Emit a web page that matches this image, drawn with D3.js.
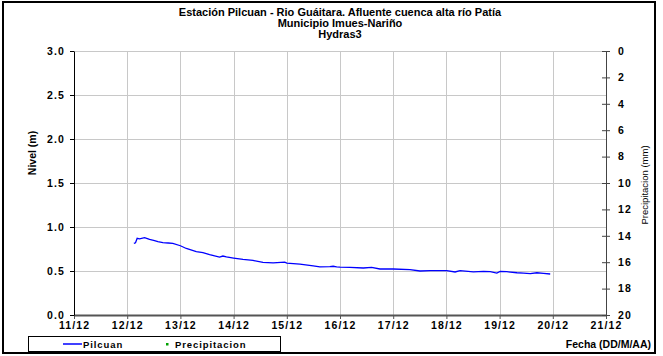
<!DOCTYPE html>
<html>
<head>
<meta charset="utf-8">
<script src="https://cdn.jsdelivr.net/npm/d3@7"></script>
<style>
  html, body { margin: 0; padding: 0; background: #fff; }
  svg { display: block; font-family: "Liberation Sans", Arial, sans-serif; }
</style>
</head>
<body>
<svg id="chart" width="663" height="356"></svg>
<script>
// Title lines
const titleLines = [
  "Estación Pilcuan - Rio Guáitara. Afluente cuenca alta río Patía",
  "Municipio Imues-Nariño",
  "Hydras3"
];

// Water level record (Pilcuan), timestamps as "dd/mm HH:MM"
const levelTimes = [
  "12/12 03:00", "12/12 03:45", "12/12 04:30", "12/12 05:35", "12/12 07:50",
  "12/12 10:05", "12/12 12:20", "12/12 13:50", "12/12 16:05", "12/12 18:30",
  "12/12 20:35", "13/12 00:00", "13/12 02:40", "13/12 07:10", "13/12 10:10",
  "13/12 13:10", "13/12 17:40", "13/12 19:10", "13/12 20:45", "14/12 00:00",
  "14/12 04:15", "14/12 08:45", "14/12 13:15", "14/12 17:50", "14/12 23:05",
  "15/12 00:00", "15/12 05:55", "15/12 11:55", "15/12 14:55", "15/12 19:25",
  "15/12 20:55", "15/12 22:30", "16/12 00:00", "16/12 04:30", "16/12 10:30",
  "16/12 14:15", "16/12 18:00", "17/12 00:00", "17/12 07:35", "17/12 12:05",
  "17/12 16:40", "18/12 00:10", "18/12 03:55", "18/12 06:10", "18/12 12:10",
  "18/12 16:45", "18/12 19:45", "18/12 22:45", "19/12 00:15", "19/12 03:15",
  "19/12 07:50", "19/12 10:50", "19/12 13:50", "19/12 16:50", "19/12 19:50",
  "19/12 22:50"
];
const levelValues = [
  0.814, 0.820, 0.872, 0.865, 0.880,
  0.860, 0.845, 0.833, 0.822, 0.818,
  0.814, 0.787, 0.756, 0.720, 0.710,
  0.686, 0.659, 0.670, 0.660, 0.647,
  0.632, 0.620, 0.597, 0.593, 0.600,
  0.589, 0.578, 0.558, 0.547, 0.550,
  0.554, 0.547, 0.545, 0.542, 0.534,
  0.542, 0.523, 0.523, 0.515, 0.500,
  0.504, 0.504, 0.489, 0.504, 0.489,
  0.496, 0.492, 0.477, 0.496, 0.492,
  0.480, 0.477, 0.470, 0.480, 0.473,
  0.466
];

// Precipitation record (no readings in this period)
const precipTimes = [];
const precipValues = [];

// Axis ticks
const dateTicks = ["11/12", "12/12", "13/12", "14/12", "15/12", "16/12",
                   "17/12", "18/12", "19/12", "20/12", "21/12"];
const levelTicks = [0.0, 0.5, 1.0, 1.5, 2.0, 2.5, 3.0];
const precipTicks = [0, 2, 4, 6, 8, 10, 12, 14, 16, 18, 20];

const parseTime = d3.timeParse("%d/%m %H:%M");
const parseDay = d3.timeParse("%d/%m");

const svg = d3.select("#chart");
const plot = { left: 74, right: 606, top: 51, bottom: 315 };

const x = d3.scaleTime()
  .domain([parseDay(dateTicks[0]), parseDay(dateTicks[dateTicks.length - 1])])
  .range([plot.left, plot.right]);
const y = d3.scaleLinear().domain([0, 3]).range([plot.bottom, plot.top]);
const yR = d3.scaleLinear().domain([0, 20]).range([plot.top, plot.bottom]);

// Outer frame
svg.append("rect")
  .attr("x", 3).attr("y", 2).attr("width", 652).attr("height", 351)
  .attr("fill", "#fff").attr("stroke", "#000").attr("stroke-width", 2);

// Title
svg.append("g").selectAll("text").data(titleLines).join("text")
  .attr("x", (plot.left + plot.right) / 2)
  .attr("y", (d, i) => 16 + i * 11)
  .attr("text-anchor", "middle")
  .attr("font-size", 11).attr("font-weight", "bold")
  .text(d => d);

// Gridlines
const grid = svg.append("g").attr("stroke", "#c8c8c8").attr("stroke-width", 1);
grid.selectAll("line.h").data(levelTicks.filter(v => v > 0)).join("line")
  .attr("x1", plot.left).attr("x2", plot.right)
  .attr("y1", d => Math.round(y(d)) + 0.5).attr("y2", d => Math.round(y(d)) + 0.5);
grid.selectAll("line.v").data(dateTicks.slice(1, -1)).join("line")
  .attr("x1", d => Math.round(x(parseDay(d))) + 0.5)
  .attr("x2", d => Math.round(x(parseDay(d))) + 0.5)
  .attr("y1", plot.top).attr("y2", plot.bottom);

// Axes
const tickFont = g => g.selectAll("text")
  .attr("font-size", 10.5).attr("font-weight", "bold")
  .attr("letter-spacing", 1.1)
  .attr("font-family", "Liberation Sans, Arial, sans-serif").attr("fill", "#000");

const xAxis = svg.append("g")
  .attr("transform", `translate(0,${plot.bottom})`)
  .call(d3.axisBottom(x)
    .tickValues(dateTicks.map(parseDay))
    .tickFormat(d3.timeFormat("%d/%m"))
    .tickSize(4).tickPadding(3).tickSizeOuter(0));
xAxis.call(tickFont);
xAxis.select(".domain").attr("stroke", "#555").attr("stroke-width", 2);
xAxis.selectAll(".tick line").attr("stroke", "#555");

const yAxis = svg.append("g")
  .attr("transform", `translate(${plot.left},0)`)
  .call(d3.axisLeft(y)
    .tickValues(levelTicks).tickFormat(d3.format(".1f"))
    .tickSize(4).tickPadding(5).tickSizeOuter(0));
yAxis.call(tickFont);
yAxis.select(".domain").attr("stroke", "#000");
yAxis.selectAll(".tick line").attr("stroke", "#000");

const yAxisR = svg.append("g")
  .attr("transform", `translate(${plot.right},0)`)
  .call(d3.axisRight(yR)
    .tickValues(precipTicks).tickFormat(d3.format("d"))
    .tickSize(4).tickPadding(8).tickSizeOuter(0));
yAxisR.call(tickFont);
yAxisR.select(".domain").attr("stroke", "#444");
yAxisR.selectAll(".tick line").attr("stroke", "#444").attr("x1", -4);

// Axis titles
svg.append("text")
  .attr("transform", `translate(36,153) rotate(-90)`)
  .attr("text-anchor", "middle")
  .attr("font-size", 10.5).attr("font-weight", "bold")
  .text("Nivel (m)");
svg.append("text")
  .attr("transform", `translate(648,185) rotate(-90)`)
  .attr("text-anchor", "middle")
  .attr("font-size", 9.5)
  .text("Precipitacion (mm)");
svg.append("text")
  .attr("x", 651).attr("y", 348)
  .attr("text-anchor", "end")
  .attr("font-size", 10.5).attr("font-weight", "bold")
  .text("Fecha (DD/M/AA)");

// Level series
const levelData = levelTimes.map((t, i) => ({ t: parseTime(t), v: levelValues[i] }));
svg.append("path")
  .datum(levelData)
  .attr("fill", "none")
  .attr("stroke", "#0000ff")
  .attr("stroke-width", 1.3)
  .attr("d", d3.line().x(d => x(d.t)).y(d => y(d.v)));

// Precipitation series
const precipData = precipTimes.map((t, i) => ({ t: parseTime(t), v: precipValues[i] }));
svg.append("g").selectAll("rect").data(precipData).join("rect")
  .attr("x", d => x(d.t) - 1).attr("y", d => yR(d.v) - 1)
  .attr("width", 2).attr("height", 2).attr("fill", "#00a000");

// Legend
const legend = svg.append("g");
legend.append("rect")
  .attr("x", 28.5).attr("y", 336.5).attr("width", 252).attr("height", 15)
  .attr("fill", "#fff").attr("stroke", "#000").attr("stroke-width", 1);
legend.append("line")
  .attr("x1", 63).attr("x2", 82).attr("y1", 344).attr("y2", 344)
  .attr("stroke", "#0000ff").attr("stroke-width", 1.5);
legend.append("text")
  .attr("x", 83).attr("y", 347.5)
  .attr("font-size", 9.5).attr("font-weight", "bold")
  .attr("letter-spacing", 0.9)
  .text("Pilcuan");
legend.append("rect")
  .attr("x", 166).attr("y", 343).attr("width", 2.5).attr("height", 2.5)
  .attr("fill", "#00a000");
legend.append("text")
  .attr("x", 175).attr("y", 347.5)
  .attr("font-size", 9.5).attr("font-weight", "bold")
  .attr("letter-spacing", 0.9)
  .text("Precipitacion");
</script>
</body>
</html>
